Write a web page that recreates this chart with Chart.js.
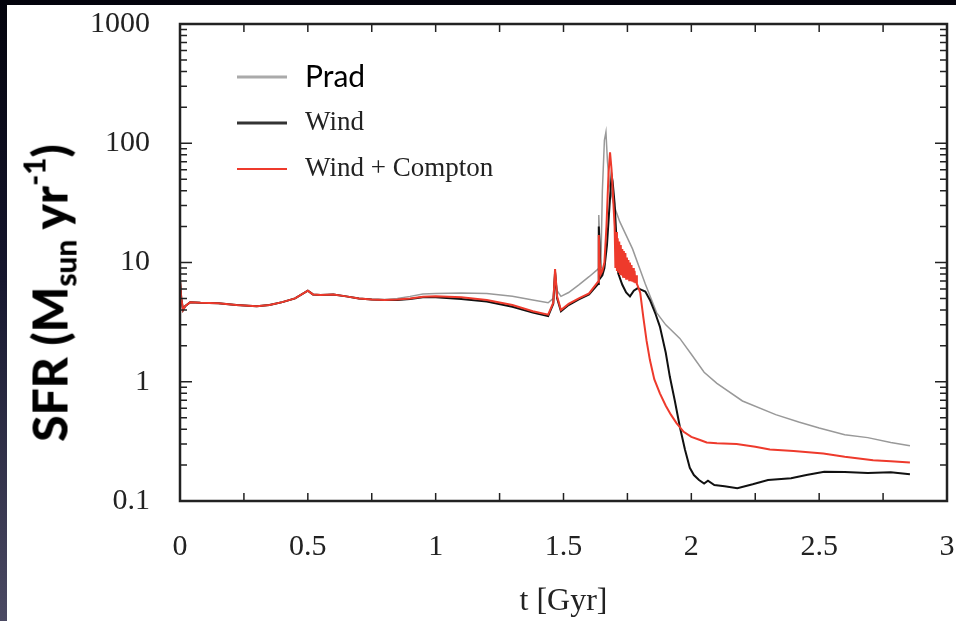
<!DOCTYPE html>
<html>
<head>
<meta charset="utf-8">
<script src="https://cdn.jsdelivr.net/npm/chart.js@4.4.1/dist/chart.umd.min.js"></script>
<style>
  html, body { margin: 0; padding: 0; }
  body {
    width: 956px; height: 621px; overflow: hidden; position: relative;
    background: linear-gradient(to bottom, #03030c 0%, #16162e 45%, #4b4a63 100%);
  }
  #panel { position: absolute; left: 7px; top: 5px; width: 949px; height: 616px; background: #fff; }
  #ylab {
    position: absolute; left: 50px; top: 293px; line-height: 1;
    transform: translate(-50%, -50%) rotate(-90deg);
    white-space: nowrap; color: #000;
    font-family: Lato, "Open Sans", sans-serif; font-weight: 900; font-size: 48px;
  }
  #ylab sub { font-size: 0.62em; vertical-align: -0.3em; }
  #ylab sup { font-size: 0.62em; vertical-align: 0.75em; }
</style>
</head>
<body>
<div id="panel"><canvas id="sfrChart" width="949" height="616"></canvas></div>
<div id="ylab">SFR (M<sub>sun</sub> yr<sup>-1</sup>)</div>
<script>
// SFR vs time, three runs
const yTicks = [0.1, 1, 10, 100, 1000];

const tPrad = [0, 0.005, 0.012, 0.02, 0.04, 0.08, 0.15, 0.22, 0.3, 0.35, 0.4, 0.45, 0.5, 0.52, 0.55, 0.6, 0.65, 0.7, 0.75, 0.8,
  0.85, 0.9, 0.95, 1.0, 1.1, 1.2, 1.3, 1.38, 1.44, 1.46, 1.467, 1.475, 1.49, 1.52, 1.56, 1.6, 1.635, 1.638, 1.642, 1.646,
  1.652, 1.66, 1.666, 1.672, 1.68, 1.69, 1.70, 1.72, 1.77, 1.82, 1.864, 1.9, 1.955, 2.0, 2.05, 2.1, 2.2, 2.33, 2.42, 2.5,
  2.6, 2.69, 2.78, 2.855];
const sfrPrad = [7.1, 5.0, 4.0, 4.3, 4.65, 4.6, 4.55, 4.4, 4.3, 4.4, 4.65, 5.0, 5.8, 5.4, 5.35, 5.4, 5.2, 5.0, 4.9, 4.9,
  5.0, 5.2, 5.45, 5.5, 5.55, 5.5, 5.2, 4.85, 4.6, 5.0, 8.5, 5.8, 5.2, 5.6, 6.5, 7.6, 8.8, 25, 15, 9,
  40, 106, 124, 70, 45, 35, 29, 22, 13, 6.6, 3.8, 3.0, 2.31, 1.7, 1.2, 0.97, 0.69, 0.53, 0.46, 0.41,
  0.36, 0.34, 0.31, 0.29];

const tWind = [0, 0.005, 0.012, 0.02, 0.04, 0.08, 0.15, 0.22, 0.3, 0.35, 0.4, 0.45, 0.5, 0.52, 0.55, 0.6, 0.65, 0.7, 0.75, 0.8,
  0.85, 0.9, 0.95, 1.0, 1.1, 1.2, 1.3, 1.38, 1.44, 1.46, 1.467, 1.475, 1.49, 1.52, 1.56, 1.6, 1.635, 1.638, 1.642, 1.646,
  1.652, 1.66, 1.67, 1.68, 1.688, 1.692, 1.70, 1.714, 1.73, 1.745, 1.76, 1.775, 1.79, 1.805, 1.82, 1.838, 1.86, 1.877, 1.9, 1.916,
  1.935, 1.955, 1.975, 1.994, 2.01, 2.03, 2.05, 2.065, 2.09, 2.13, 2.18, 2.24, 2.3, 2.39, 2.45, 2.52, 2.6, 2.69, 2.78, 2.855];
const sfrWind = [7.1, 5.0, 4.0, 4.3, 4.65, 4.6, 4.55, 4.4, 4.3, 4.4, 4.65, 5.0, 5.8, 5.4, 5.35, 5.4, 5.2, 5.0, 4.9, 4.85,
  4.85, 4.95, 5.1, 5.1, 4.95, 4.7, 4.25, 3.8, 3.55, 4.5, 8.3, 5.0, 3.9, 4.4, 4.9, 5.4, 6.6, 20, 12, 7.5,
  7.8, 9, 14, 30, 54, 48, 31, 8.1, 6.5, 5.6, 5.2, 5.8, 6.1, 5.9, 5.7, 4.85, 3.7, 2.9, 1.75, 1.1,
  0.7, 0.42, 0.27, 0.19, 0.165, 0.15, 0.14, 0.148, 0.136, 0.133, 0.128, 0.138, 0.15, 0.155, 0.165, 0.176, 0.175, 0.172, 0.174, 0.168];

const tCompton = [0, 0.005, 0.012, 0.02, 0.04, 0.08, 0.15, 0.22, 0.3, 0.35, 0.4, 0.45, 0.5, 0.52, 0.55, 0.6, 0.65, 0.7, 0.75, 0.8,
  0.85, 0.9, 0.95, 1.0, 1.1, 1.2, 1.3, 1.38, 1.44, 1.46, 1.467, 1.475, 1.49, 1.52, 1.56, 1.6, 1.635, 1.638, 1.642, 1.646,
  1.652, 1.66, 1.668, 1.676, 1.682, 1.688, 1.694, 1.70, 1.703, 1.706, 1.709, 1.712, 1.715, 1.718, 1.721, 1.724, 1.727, 1.730,
  1.733, 1.736, 1.739, 1.742, 1.745, 1.748, 1.751, 1.754, 1.757, 1.760, 1.763, 1.766, 1.769, 1.772, 1.775, 1.778, 1.781, 1.784,
  1.787, 1.79, 1.80, 1.812, 1.825, 1.838, 1.855, 1.877, 1.9, 1.92, 1.942, 1.97, 2.0, 2.034, 2.06, 2.1, 2.177, 2.25, 2.307, 2.4,
  2.516, 2.6, 2.711, 2.78, 2.855];
const sfrCompton = [7.1, 5.0, 4.0, 4.3, 4.65, 4.6, 4.55, 4.4, 4.3, 4.4, 4.65, 5.0, 5.8, 5.4, 5.35, 5.4, 5.2, 5.0, 4.9, 4.85,
  4.9, 5.0, 5.15, 5.2, 5.1, 4.85, 4.4, 3.9, 3.65, 4.6, 8.8, 5.2, 4.0, 4.5, 5.0, 5.5, 6.9, 17, 10, 8,
  8.5, 10, 20, 55, 84, 60, 35, 20, 9, 18, 8.5, 16, 8.2, 15, 8, 14, 7.8, 13,
  7.6, 12.5, 7.4, 12, 7.3, 11, 7.2, 10.5, 7.1, 10, 7.0, 9.5, 6.9, 9, 6.8, 8.5, 6.7, 7.8,
  6.6, 6.4, 5.6, 3.5, 2.2, 1.52, 1.05, 0.80, 0.63, 0.53, 0.45, 0.38, 0.345, 0.325, 0.31, 0.305, 0.30, 0.285, 0.27, 0.262,
  0.25, 0.235, 0.22, 0.215, 0.21];

const toPoints = (ts, vs) => ts.map((t, i) => ({ x: t, y: vs[i] }));

// inward tick marks, frame and the legend
const framePlugin = {
  id: 'framePlugin',
  afterDatasetsDraw(chart) {
    const { ctx, chartArea: a, scales: { x, y } } = chart;
    ctx.save();
    ctx.strokeStyle = '#222';
    ctx.lineWidth = 1.5;
    ctx.beginPath();
    for (let t = 0.25; t < 3; t += 0.25) {
      const px = x.getPixelForValue(t);
      ctx.moveTo(px, a.bottom); ctx.lineTo(px, a.bottom - 8);
      ctx.moveTo(px, a.top); ctx.lineTo(px, a.top + 8);
    }
    for (let e = -1; e < 3; e++) {
      for (let m = 1; m <= 10; m++) {
        const py = y.getPixelForValue(m * Math.pow(10, e));
        const len = (m === 1 || m === 10) ? 12 : 7;
        ctx.moveTo(a.left, py); ctx.lineTo(a.left + len, py);
        ctx.moveTo(a.right, py); ctx.lineTo(a.right - len, py);
      }
    }
    ctx.stroke();
    ctx.lineWidth = 2.5;
    ctx.strokeRect(a.left, a.top, a.right - a.left, a.bottom - a.top);

    const fonts = ['30px Lato, sans-serif', '27px "Liberation Serif", serif', '27px "Liberation Serif", serif'];
    const swatch = ['#aaaaaa', '#333333', '#ee3a2c'];
    chart.data.datasets.forEach((ds, i) => {
      const ly = 72 + i * 46;
      ctx.strokeStyle = swatch[i];
      ctx.lineWidth = i === 2 ? 2 : 3;
      ctx.beginPath();
      ctx.moveTo(230, ly); ctx.lineTo(280, ly);
      ctx.stroke();
      ctx.fillStyle = i === 0 ? '#000' : '#222';
      ctx.font = fonts[i];
      ctx.textBaseline = 'middle';
      ctx.fillText(ds.label, 298, ly);
    });
    ctx.restore();
  }
};

new Chart(document.getElementById('sfrChart'), {
  type: 'line',
  data: {
    datasets: [
      { label: 'Prad', data: toPoints(tPrad, sfrPrad), borderColor: '#999999', borderWidth: 1.5, order: 2 },
      { label: 'Wind', data: toPoints(tWind, sfrWind), borderColor: '#111111', borderWidth: 2, order: 1 },
      { label: 'Wind + Compton', data: toPoints(tCompton, sfrCompton), borderColor: '#ee3a2c', borderWidth: 2, order: 0 }
    ]
  },
  options: {
    responsive: false,
    animation: false,
    events: [],
    elements: { point: { radius: 0 }, line: { tension: 0 } },
    layout: { autoPadding: false, padding: { top: 19, right: 9, left: 0, bottom: 0 } },
    plugins: { legend: { display: false }, tooltip: { enabled: false } },
    scales: {
      x: {
        type: 'linear', min: 0, max: 3,
        grid: { display: false, drawTicks: false },
        border: { display: false },
        ticks: { stepSize: 0.5, padding: 28, color: '#222', font: { family: '"Liberation Serif", serif', size: 30 },
                 callback: v => String(v) },
        title: { display: true, text: 't [Gyr]', color: '#222', padding: { top: 0, bottom: 0 },
                 font: { family: '"Liberation Serif", serif', size: 32 } },
        afterFit(scale) {
          scale.height = 120;
          scale.paddingLeft = 0; scale.paddingRight = 0;
        }
      },
      y: {
        type: 'logarithmic', min: 0.1, max: 1000,
        grid: { display: false, drawTicks: false },
        border: { display: false },
        afterBuildTicks(scale) { scale.ticks = yTicks.map(v => ({ value: v })); },
        ticks: { padding: 30, color: '#222', font: { family: '"Liberation Serif", serif', size: 30 },
                 callback: v => String(v) },
        afterFit(scale) {
          scale.width = 173;
          scale.paddingTop = 0; scale.paddingBottom = 0;
        }
      }
    }
  },
  plugins: [framePlugin]
});
</script>
</body>
</html>
